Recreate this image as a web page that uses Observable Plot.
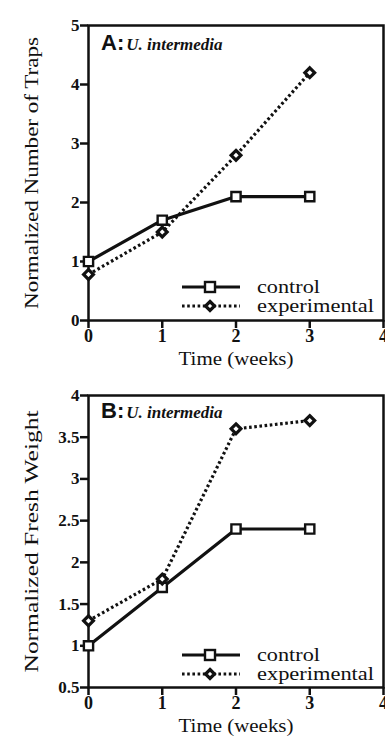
<!DOCTYPE html>
<html>
<head>
<meta charset="utf-8">
<script src="https://cdn.jsdelivr.net/npm/d3@7"></script>
<script src="https://cdn.jsdelivr.net/npm/@observablehq/plot@0.6"></script>
<style>
  html, body { margin: 0; padding: 0; background: white; }
  .panel { position: relative; width: 385px; }
  .tag { position: absolute; left: 101px; white-space: nowrap; color: #111; }
  .tag b { font-family: "Liberation Sans", Arial, sans-serif; font-weight: bold; font-size: 22px; }
  .tag i { font-family: "Liberation Serif", "DejaVu Serif", serif; font-weight: bold; font-style: italic; font-size: 17px; margin-left: 2px; }
  .key { position: absolute; left: 180px; }
</style>
</head>
<body>
<div id="root"></div>
<script>
const weeks = [0, 1, 2, 3];
const xTicks = [0, 1, 2, 3, 4];
const seriesNames = ["control", "experimental"];

const trapsControl = [1.0, 1.7, 2.1, 2.1];
const trapsExperimental = [0.78, 1.5, 2.8, 4.2];
const trapsTicks = [0, 1, 2, 3, 4, 5];
const trapsLabel = "Normalized Number of Traps";

const weightControl = [1.0, 1.7, 2.4, 2.4];
const weightExperimental = [1.3, 1.8, 3.6, 3.7];
const weightTicks = [0.5, 1, 1.5, 2, 2.5, 3, 3.5, 4];
const weightLabel = "Normalized Fresh Weight";

const xLabel = "Time (weeks)";
const species = "U. intermedia";

const ink = "#111";
const serif = "'Liberation Serif', 'DejaVu Serif', serif";

function rows(vals) { return weeks.map((w, i) => ({x: w, y: vals[i]})); }

function panel({height, plotHeight, yDomain, yTicks, control, experimental, yLabel, letter, tagTop, legendTop}) {
  const c = rows(control), e = rows(experimental);
  const chart = Plot.plot({
    width: 385,
    height,
    marginLeft: 88,
    marginRight: 2,
    marginTop: 25,
    marginBottom: height - 25 - plotHeight,
    style: {fontFamily: serif, fontSize: "17px", color: ink, background: "white"},
    x: {domain: [0, 4]},
    y: {domain: yDomain},
    marks: [
      Plot.axisX({ticks: xTicks, tickSize: 8, tickPadding: 1, fontWeight: "bold", fontSize: 18, strokeWidth: 2.5,
        tickFormat: d => String(d), label: xLabel, labelAnchor: "center", labelArrow: "none", labelOffset: 44, color: ink}),
      Plot.axisY({ticks: yTicks, tickSize: 8, tickPadding: 1, fontWeight: "bold", fontSize: 17, strokeWidth: 2.5,
        tickFormat: d => String(d), label: yLabel, labelAnchor: "center", labelArrow: "none", labelOffset: 64, color: ink}),
      Plot.frame({stroke: ink, strokeWidth: 2.5}),
      Plot.line(c, {x: "x", y: "y", stroke: ink, strokeWidth: 3.2}),
      Plot.line(e, {x: "x", y: "y", stroke: ink, strokeWidth: 3.2, strokeDasharray: "2.6,2.6", strokeLinecap: "butt"}),
      Plot.dot(c, {x: "x", y: "y", symbol: "square", r: 5.2, fill: "white", stroke: ink, strokeWidth: 2.4}),
      Plot.dot(e, {x: "x", y: "y", symbol: "diamond2", r: 4.4, fill: "white", stroke: ink, strokeWidth: 3.2})
    ]
  });
  const labels = chart.querySelectorAll('g[aria-label$="axis label"] text');
  labels.forEach(t => {
    t.setAttribute("font-weight", "normal");
    t.setAttribute("font-size", 19);
    t.setAttribute("lengthAdjust", "spacingAndGlyphs");
    if (t.textContent === xLabel) t.setAttribute("textLength", 115);
    else t.setAttribute("textLength", yLabel === trapsLabel ? 272 : 262);
  });

  const wrap = document.createElement("div");
  wrap.className = "panel";
  wrap.style.height = height + "px";
  wrap.appendChild(chart);

  const tag = document.createElement("div");
  tag.className = "tag";
  tag.style.top = tagTop + "px";
  tag.innerHTML = `<b>${letter}:</b><i>${species}</i>`;
  wrap.appendChild(tag);

  const key = document.createElement("div");
  key.className = "key";
  key.style.top = legendTop + "px";
  key.innerHTML = `<svg width="205" height="40" font-family="Liberation Serif, DejaVu Serif, serif" font-size="19" fill="${ink}">
    <line x1="2" x2="60" y1="10" y2="10" stroke="${ink}" stroke-width="3.2"/>
    <rect x="25" y="5" width="10" height="10" fill="white" stroke="${ink}" stroke-width="2.4"/>
    <text x="77" y="16" textLength="63" lengthAdjust="spacingAndGlyphs">${seriesNames[0]}</text>
    <line x1="2" x2="60" y1="29" y2="29" stroke="${ink}" stroke-width="3.2" stroke-dasharray="2.6,2.6"/>
    <path d="M30,24.5 L34.5,29 L30,33.5 L25.5,29 Z" fill="white" stroke="${ink}" stroke-width="3.2"/>
    <text x="77" y="35" textLength="117" lengthAdjust="spacingAndGlyphs">${seriesNames[1]}</text>
  </svg>`;
  wrap.appendChild(key);
  return wrap;
}

const root = document.getElementById("root");
root.appendChild(panel({height: 370, plotHeight: 295, yDomain: [0, 5], yTicks: trapsTicks, control: trapsControl, experimental: trapsExperimental,
  yLabel: trapsLabel, letter: "A", tagTop: 30, legendTop: 277}));
root.appendChild(panel({height: 368, plotHeight: 292, yDomain: [0.5, 4], yTicks: weightTicks, control: weightControl, experimental: weightExperimental,
  yLabel: weightLabel, letter: "B", tagTop: 28, legendTop: 275}));
</script>
</body>
</html>
